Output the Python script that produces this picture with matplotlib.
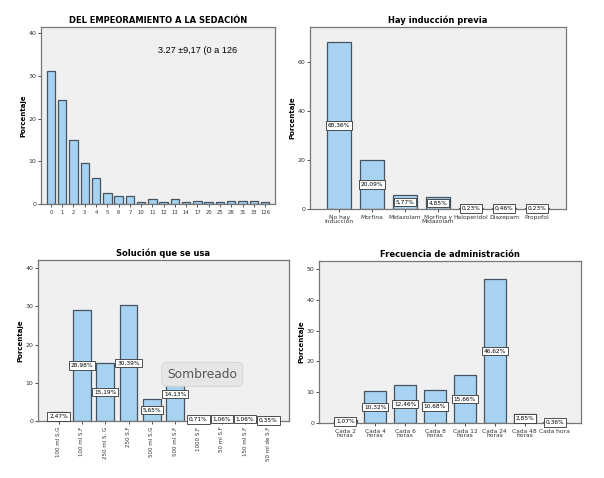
import matplotlib
matplotlib.use("Agg")
import matplotlib.pyplot as plt
import numpy as np

# datos de los cuatro graficos (porcentajes)
emp_cats = ["0", "1", "2", "3", "4", "5", "6", "7", "10", "11", "12", "13",
            "14", "17", "20", "25", "28", "31", "33", "126"]
emp_vals = [31.2, 24.5, 15.0, 9.5, 6.2, 2.6, 1.9, 1.9, 0.4, 1.1, 0.4, 1.1,
            0.4, 0.7, 0.4, 0.4, 0.7, 0.7, 0.7, 0.4]

ind_cats = ["No hay\ninducción", "Morfina", "Midazolam", "Morfina y\nMidazolam",
            "Haloperidol", "Diazepam", "Propofol"]
ind_vals = [68.36, 20.09, 5.77, 4.85, 0.23, 0.46, 0.23]

sol_cats = ["100 ml S.G", "100 ml S.F", "250 ml S. G", "250 S.F", "500 ml S.G",
            "500 ml S.F", "1000 S.F", "50 ml S.F", "150 ml S.F", "50 ml de S.F"]
sol_vals = [2.47, 28.98, 15.19, 30.39, 5.65, 14.13, 0.71, 1.06, 1.06, 0.35]

frec_cats = ["Cada 2\nhoras", "Cada 4\nhoras", "Cada 6\nhoras", "Cada 8\nhoras",
             "Cada 12\nhoras", "Cada 24\nhoras", "Cada 48\nhoras", "Cada hora"]
frec_vals = [1.07, 10.32, 12.46, 10.68, 15.66, 46.62, 2.85, 0.36]

W, H = 604, 478
BAR = "#a8d2f2"
EDGE = "#465461"
BG = "#f0f0f0"

fig = plt.figure(figsize=(W / 100, H / 100), dpi=100)


def make_ax(x0, y0, x1, y1):
    return fig.add_axes([x0 / W, 1 - y1 / H, (x1 - x0) / W, (y1 - y0) / H])


def bar_panel(ax, cats, vals, title, ymax, yticks, labels=True, rot=0, fs=4.3):
    x = np.arange(len(cats))
    ax.set_facecolor(BG)
    ax.bar(x, vals, width=0.75, color=BAR, edgecolor=EDGE, linewidth=0.9, zorder=2)
    ax.set_xlim(-0.88, len(cats) - 0.12)
    ax.set_ylim(0, ymax)
    ax.set_yticks(yticks)
    ax.set_xticks(x)
    ax.set_xticklabels(cats, rotation=rot, fontsize=fs, linespacing=0.9)
    ax.tick_params(axis="y", labelsize=4.5, length=2.5, width=0.6, pad=1, colors="#333333")
    ax.tick_params(axis="x", length=2.5, width=0.6, pad=1.5, colors="#333333")
    for s in ax.spines.values():
        s.set_color("#777777")
        s.set_linewidth(0.9)
    ax.set_title(title, fontsize=6, fontweight="bold", pad=3)
    ax.set_ylabel("Porcentaje", fontsize=5, fontweight="bold", labelpad=1.5)
    if labels:
        for xi, v in zip(x, vals):
            ax.text(xi, v / 2, f"{v:.2f}".replace(".", ",") + "%", fontsize=4.2,
                    ha="center", va="center", zorder=4,
                    bbox=dict(boxstyle="square,pad=0.3", fc="white", ec="#333333", lw=0.6))


ax1 = make_ax(41, 27, 275, 204)
bar_panel(ax1, emp_cats, emp_vals, "DEL EMPEORAMIENTO A LA SEDACIÓN", 41.5,
          [0, 10, 20, 30, 40], labels=False, fs=3.8)
ax1.text(0.50, 0.87, "3.27 ±9,17 (0 a 126", transform=ax1.transAxes, fontsize=6.6,
         family="Liberation Sans", ha="left", va="center")

ax2 = make_ax(310, 27, 566, 209)
bar_panel(ax2, ind_cats, ind_vals, "Hay inducción previa", 74.3, [0, 20, 40, 60])

ax3 = make_ax(38, 260, 289, 421)
bar_panel(ax3, sol_cats, sol_vals, "Solución que se usa", 42.1, [0, 10, 20, 30, 40],
          rot=90, fs=4.0)
ax3.text(0.515, 0.29, "Sombreado", transform=ax3.transAxes, fontsize=8.8,
         color="#555555", ha="left", va="center", zorder=6,
         bbox=dict(boxstyle="round,pad=0.45", fc="#e6e6e6", ec="#d0d0d0", lw=0.6))

ax4 = make_ax(319, 261, 581, 423)
bar_panel(ax4, frec_cats, frec_vals, "Frecuencia de administración", 52.6,
          [0, 10, 20, 30, 40, 50])

fig.savefig("out.png", dpi=100, facecolor="white")
